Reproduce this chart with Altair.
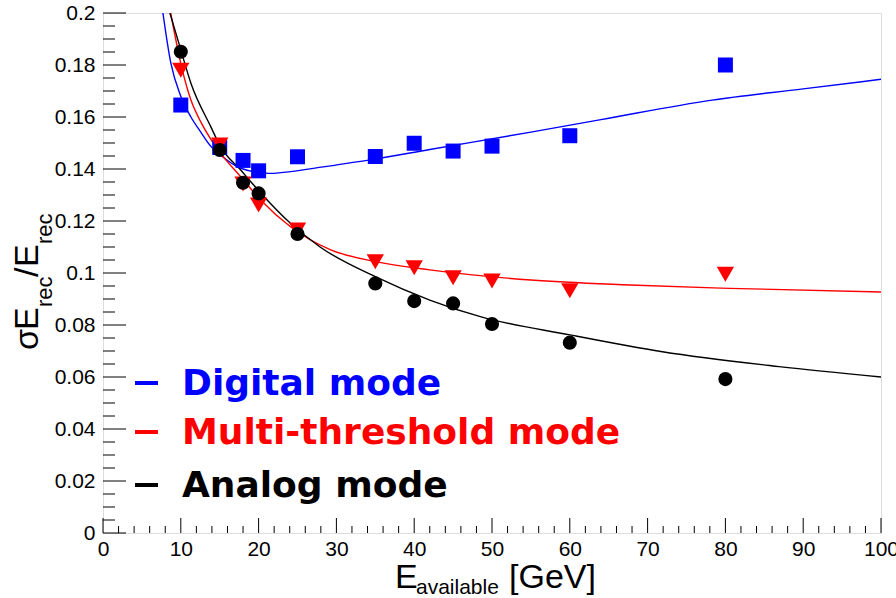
import altair as alt
import pandas as pd

# Measured points
energy = [10, 15, 18, 20, 25, 35, 40, 45, 50, 60, 80]
digital = [0.1646, 0.1483, 0.1433, 0.1393, 0.1447, 0.1448, 0.1499, 0.1469, 0.1488, 0.1528, 0.1800]
multi = [0.1780, 0.1492, 0.1342, 0.1262, 0.1165, 0.1043, 0.1020, 0.0982, 0.0969, 0.0932, 0.0995]
analog = [0.1851, 0.1473, 0.1347, 0.1306, 0.1150, 0.0960, 0.0892, 0.0883, 0.0804, 0.0732, 0.0592]

# Fitted resolution curves (sampled)
digital_fit_e = [7.7, 8.7, 10.0, 11.3, 12.5, 13.9, 15.1, 17.7, 21.5, 24.1, 28.3, 34.7, 42, 55, 64, 78.3, 90, 100]
digital_fit = [0.200, 0.181, 0.168, 0.160, 0.1545, 0.1486, 0.1454, 0.1403, 0.1383, 0.1390, 0.1408, 0.1437,
               0.1475, 0.1542, 0.1590, 0.1665, 0.1708, 0.1745]
multi_fit_e = [8.7, 10.2, 11.3, 12.5, 13.85, 15.0, 17.7, 20.3, 24.1, 29.2, 35, 42, 55, 67.7, 80.5, 100]
multi_fit = [0.200, 0.178, 0.1665, 0.1585, 0.1515, 0.1465, 0.137, 0.128, 0.1178, 0.109, 0.1044, 0.1012,
             0.0973, 0.0954, 0.0941, 0.0927]
analog_fit_e = [8.6, 10.0, 11.3, 13.85, 15.1, 17.7, 20.3, 24.1, 27.9, 35, 42, 48.5, 60, 71.9, 86.9, 100]
analog_fit = [0.200, 0.1858, 0.173, 0.1563, 0.1486, 0.1396, 0.1307, 0.1191, 0.110, 0.0986, 0.0896, 0.0832,
              0.0762, 0.0697, 0.064, 0.060]

series_names = ["Digital mode", "Multi-threshold mode", "Analog mode"]
series_colors = ["#0000ff", "#ff0000", "#000000"]
series_shapes = ["square", "triangle-down", "circle"]
series_sizes = [225, 300, 200]

x_ticks = [0, 10, 20, 30, 40, 50, 60, 70, 80, 90, 100]
y_ticks = [round(i * 0.02, 2) for i in range(11)]

W, H = 778, 520
TICK_FONT = "Liberation Sans Narrow, Liberation Sans, Arial, sans-serif"
TEXT_FONT = "Liberation Sans, Arial, sans-serif"
LEGEND_FONT = "DejaVu Sans, sans-serif"

xscale = alt.Scale(domain=[0, 100], nice=False, zero=False)
yscale = alt.Scale(domain=[0, 0.2], nice=False, zero=False)

x_axis = alt.Axis(values=x_ticks, format="d", ticks=False, domain=False, grid=False, title=None,
                  labelFont=TICK_FONT, labelFontSize=21, labelColor="black", labelPadding=5,
                  labelFlush=False)
y_axis = alt.Axis(values=y_ticks, format="~g", ticks=False, domain=False, grid=False, title=None,
                  labelFont=TICK_FONT, labelFontSize=21, labelColor="black", labelPadding=8,
                  labelFlush=False)

# Inward tick marks (ROOT style): majors every 10 / 0.02, minors every 2 / 0.005
x_major = [v for v in range(0, 101, 10)]
x_minor = [v for v in range(0, 101, 2) if v % 10 != 0]
y_major = y_ticks
y_minor = [round(i * 0.005, 3) for i in range(41) if i % 4 != 0]

x_tick_major = alt.Chart(pd.DataFrame({"v": x_major})).mark_rule(color="black", strokeWidth=1).encode(
    x=alt.X("v:Q", scale=xscale, axis=x_axis), y=alt.value(H), y2=alt.value(H - 15))
x_tick_minor = alt.Chart(pd.DataFrame({"v": x_minor})).mark_rule(color="black", strokeWidth=1).encode(
    x=alt.X("v:Q", scale=xscale), y=alt.value(H), y2=alt.value(H - 7))
y_tick_major = alt.Chart(pd.DataFrame({"v": y_major})).mark_rule(color="black", strokeWidth=1).encode(
    y=alt.Y("v:Q", scale=yscale, axis=y_axis), x=alt.value(0), x2=alt.value(23))
y_tick_minor = alt.Chart(pd.DataFrame({"v": y_minor})).mark_rule(color="black", strokeWidth=1).encode(
    y=alt.Y("v:Q", scale=yscale), x=alt.value(0), x2=alt.value(12))

color_scale = alt.Scale(domain=series_names, range=series_colors)

fits = pd.concat([
    pd.DataFrame({"E": digital_fit_e, "r": digital_fit, "mode": series_names[0]}),
    pd.DataFrame({"E": multi_fit_e, "r": multi_fit, "mode": series_names[1]}),
    pd.DataFrame({"E": analog_fit_e, "r": analog_fit, "mode": series_names[2]}),
])
fit_layer = alt.Chart(fits).mark_line(strokeWidth=1.4, interpolate="monotone", clip=True).encode(
    x=alt.X("E:Q", scale=xscale),
    y=alt.Y("r:Q", scale=yscale),
    color=alt.Color("mode:N", scale=color_scale, legend=None),
    detail="mode:N",
)

point_layers = []
for name, vals, col, shp, sz in zip(series_names, [digital, multi, analog], series_colors,
                                    series_shapes, series_sizes):
    df = pd.DataFrame({"E": energy, "r": vals})
    point_layers.append(
        alt.Chart(df).mark_point(shape=shp, size=sz, filled=True, opacity=1, color=col, strokeWidth=0).encode(
            x=alt.X("E:Q", scale=xscale), y=alt.Y("r:Q", scale=yscale))
    )


def label(text, x, y, size, color="black", font=TEXT_FONT, weight="normal", angle=0,
          align="left", baseline="alphabetic"):
    return alt.Chart(pd.DataFrame({"t": [text]})).mark_text(
        font=font, fontSize=size, fontWeight=weight, color=color, align=align,
        baseline=baseline, angle=angle).encode(text="t:N", x=alt.value(x), y=alt.value(y))


# Legend: colored dash + bold label per series
legend_rows = [370, 419, 472]
legend_layers = []
for name, col, yy in zip(series_names, series_colors, legend_rows):
    legend_layers.append(
        alt.Chart(pd.DataFrame({"t": [name]})).mark_rule(color=col, strokeWidth=4).encode(
            x=alt.value(32), x2=alt.value(55), y=alt.value(yy)))
    legend_layers.append(label(name, 79, yy + 12, 36, color=col, font=LEGEND_FONT, weight="bold"))

# Axis titles built from pieces (subscripts)
x_title = [
    label("E", 292, 575, 34),
    label("available", 313, 581, 21),
    label("[GeV]", 406, 575, 34),
]
# rotated title, each piece starts where the previous one ends (reading upward)
y_title = [
    label("σ", -65, 337, 34, angle=270),
    label("E", -65, 317, 34, angle=270),
    label("rec", -51, 294, 22, angle=270),
    label("/", -65, 264, 34, angle=270),
    label("E", -65, 254, 34, angle=270),
    label("rec", -51, 231, 22, angle=270),
]

chart = alt.layer(
    x_tick_major, x_tick_minor, y_tick_major, y_tick_minor,
    fit_layer, *point_layers, *legend_layers, *x_title, *y_title,
).properties(
    width=W, height=H,
    autosize=alt.AutoSizeParams(type="none"),
    padding={"left": 103, "top": 13, "right": 15, "bottom": 65},
).configure_view(
    stroke="black", strokeWidth=2
).configure(background="white")

chart.save("out.html", embed_options={"renderer": "svg", "actions": False})
